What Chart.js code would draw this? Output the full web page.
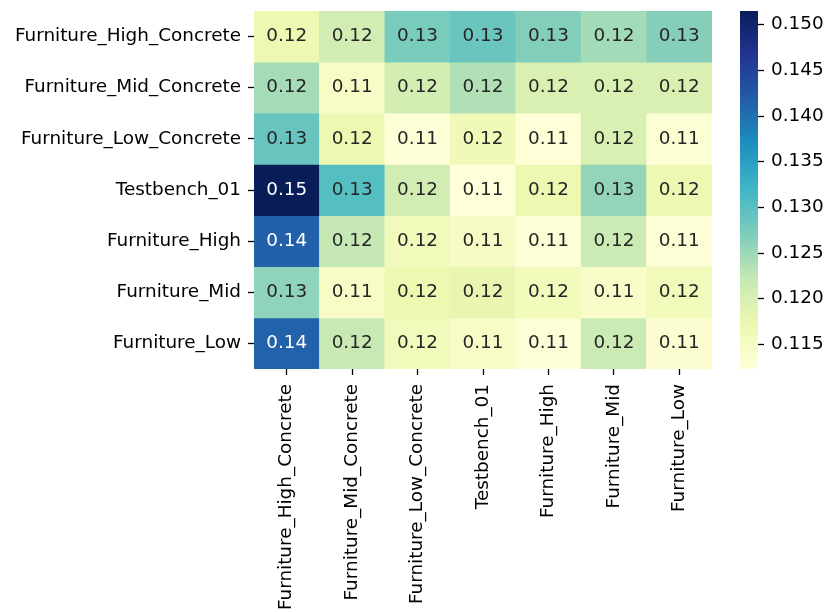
<!DOCTYPE html>
<html>
<head>
<meta charset="utf-8">
<script src="https://cdn.jsdelivr.net/npm/chart.js@4.4.1/dist/chart.umd.min.js"></script>
<style>
  html, body { margin: 0; padding: 0; background: #fff; }
  #wrap { position: relative; width: 829px; height: 612px; }
  #wrap canvas { position: absolute; left: 0; top: 0; }
</style>
</head>
<body>
<div id="wrap">
  <canvas id="heat" width="829" height="612"></canvas>
  <canvas id="cbar" width="829" height="612"></canvas>
</div>
<script>
// Row / column categories
const rowLabels = ['Furniture_High_Concrete', 'Furniture_Mid_Concrete', 'Furniture_Low_Concrete',
                   'Testbench_01', 'Furniture_High', 'Furniture_Mid', 'Furniture_Low'];
const colLabels = ['Furniture_High_Concrete', 'Furniture_Mid_Concrete', 'Furniture_Low_Concrete',
                   'Testbench_01', 'Furniture_High', 'Furniture_Mid', 'Furniture_Low'];

// One array of values per row
const highConcrete  = [0.1169, 0.1208, 0.1275, 0.1287, 0.1268, 0.1246, 0.1266];
const midConcrete   = [0.1244, 0.1146, 0.1205, 0.1236, 0.1197, 0.1198, 0.1197];
const lowConcrete   = [0.1289, 0.1171, 0.1126, 0.1165, 0.1124, 0.1198, 0.1130];
const testbench01   = [0.1515, 0.1303, 0.1207, 0.1123, 0.1172, 0.1256, 0.1169];
const furnitureHigh = [0.1415, 0.1222, 0.1161, 0.1148, 0.1128, 0.1215, 0.1127];
const furnitureMid  = [0.1260, 0.1146, 0.1172, 0.1177, 0.1158, 0.1144, 0.1160];
const furnitureLow  = [0.1413, 0.1220, 0.1160, 0.1146, 0.1128, 0.1216, 0.1131];

// Colour bar tick values
const cbarTicks = [0.115, 0.120, 0.125, 0.130, 0.135, 0.140, 0.145, 0.150];

const rows = [highConcrete, midConcrete, lowConcrete, testbench01, furnitureHigh, furnitureMid, furnitureLow];
const allValues = rows.flat();
const vmin = Math.min(...allValues);
const vmax = Math.max(...allValues);

// YlGnBu colour map
const ylgnbu = ['#ffffd9', '#edf8b1', '#c7e9b4', '#7fcdbb', '#41b6c4', '#1d91c0', '#225ea8', '#253494', '#081d58'];
const ylgnbuRgb = ylgnbu.map(h => [1, 3, 5].map(i => parseInt(h.substr(i, 2), 16)));

function cmap(v) {
  let t = (v - vmin) / (vmax - vmin);
  t = Math.max(0, Math.min(1, t));
  const pos = t * (ylgnbuRgb.length - 1);
  const i = Math.min(Math.floor(pos), ylgnbuRgb.length - 2);
  const f = pos - i;
  const a = ylgnbuRgb[i], b = ylgnbuRgb[i + 1];
  return a.map((c, k) => Math.round(c + (b[k] - c) * f));
}
function rgbStr(c) { return `rgb(${c[0]},${c[1]},${c[2]})`; }
function luminance(c) {
  const lin = c.map(x => { x /= 255; return x <= 0.03928 ? x / 12.92 : Math.pow((x + 0.055) / 1.055, 2.4); });
  return 0.2126 * lin[0] + 0.7152 * lin[1] + 0.0722 * lin[2];
}

const FONT = { family: 'DejaVu Sans', size: 18.4 };
Chart.defaults.color = '#000';
Chart.defaults.font.family = 'DejaVu Sans';

// Axis sizes are fixed so the plotting area sits where intended
function noEdgePadding(scale) {
  scale.paddingTop = 0;
  scale.paddingBottom = 0;
  scale.paddingLeft = 0;
  scale.paddingRight = 0;
}

// Each row is one dataset of floating bars spanning [r, r+1] on the row axis
const datasets = rows.map((vals, r) => ({
  label: rowLabels[r],
  data: vals.map(() => [r, r + 1]),
  values: vals,
  backgroundColor: vals.map(v => rgbStr(cmap(v))),
  borderWidth: 0,
  barPercentage: 1,
  categoryPercentage: 1,
  grouped: false
}));

// Writes each cell's value at its centre
const annotate = {
  id: 'annotate',
  afterDatasetsDraw(chart) {
    const ctx = chart.ctx;
    ctx.save();
    ctx.font = `${FONT.size}px ${FONT.family}`;
    ctx.textAlign = 'center';
    ctx.textBaseline = 'middle';
    chart.data.datasets.forEach((ds, di) => {
      chart.getDatasetMeta(di).data.forEach((el, i) => {
        const v = ds.values[i];
        const c = cmap(v);
        ctx.fillStyle = luminance(c) > 0.408 ? '#262626' : '#ffffff';
        ctx.fillText(v.toFixed(2), el.x, (el.y + el.base) / 2);
      });
    });
    ctx.restore();
  }
};

new Chart(document.getElementById('heat'), {
  type: 'bar',
  data: { labels: colLabels, datasets },
  plugins: [annotate],
  options: {
    responsive: false,
    animation: false,
    events: [],
    layout: { padding: { left: 0, top: 11, right: 117, bottom: 0 } },
    plugins: { legend: { display: false }, tooltip: { enabled: false } },
    scales: {
      x: {
        type: 'category',
        border: { display: false },
        grid: { offset: false, drawOnChartArea: false, drawTicks: true, tickLength: 6, tickWidth: 1.3, color: '#000' },
        ticks: { autoSkip: false, minRotation: 90, maxRotation: 90, padding: 9, font: FONT, color: '#000' },
        afterFit(scale) { scale.height = 243; noEdgePadding(scale); }
      },
      y: {
        type: 'linear',
        min: 0,
        max: rowLabels.length,
        reverse: true,
        border: { display: false },
        grid: { drawOnChartArea: false, drawTicks: true, tickLength: 6, tickWidth: 1.3, color: '#000' },
        ticks: {
          padding: 7,
          font: FONT,
          color: '#000',
          callback: v => rowLabels[Math.floor(v)]
        },
        afterBuildTicks(scale) {
          scale.ticks = rowLabels.map((_, i) => ({ value: i + 0.5 }));
        },
        afterFit(scale) { scale.width = 254; noEdgePadding(scale); }
      }
    }
  }
});

// Colour bar: a single floating bar from vmin to vmax filled with the colour map
new Chart(document.getElementById('cbar'), {
  type: 'bar',
  data: {
    labels: [''],
    datasets: [{
      data: [[vmin, vmax]],
      borderWidth: 0,
      barPercentage: 1,
      categoryPercentage: 1,
      backgroundColor(c) {
        const a = c.chart.chartArea;
        if (!a) return '#ffffff';
        const g = c.chart.ctx.createLinearGradient(0, a.bottom, 0, a.top);
        ylgnbu.forEach((col, i) => g.addColorStop(i / (ylgnbu.length - 1), col));
        return g;
      }
    }]
  },
  options: {
    responsive: false,
    animation: false,
    events: [],
    layout: { padding: { left: 740, top: 11, right: 0, bottom: 243 } },
    plugins: { legend: { display: false }, tooltip: { enabled: false } },
    scales: {
      x: { display: false },
      y: {
        type: 'linear',
        position: 'right',
        min: vmin,
        max: vmax,
        border: { display: false },
        grid: { drawOnChartArea: false, drawTicks: true, tickLength: 6, tickWidth: 1.3, color: '#000' },
        ticks: { padding: 7, font: FONT, color: '#000', callback: v => v.toFixed(3) },
        afterBuildTicks(scale) {
          scale.ticks = cbarTicks.map(v => ({ value: v }));
        },
        afterFit(scale) { scale.width = 71; noEdgePadding(scale); }
      }
    }
  }
});
</script>
</body>
</html>
